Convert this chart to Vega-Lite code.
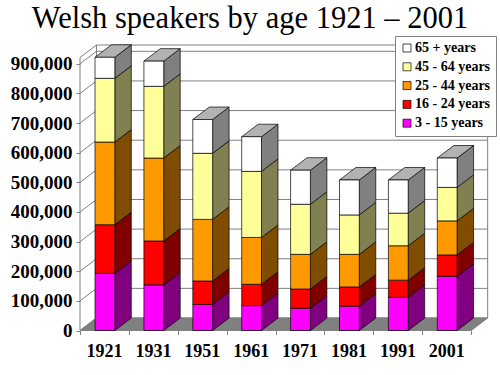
{
"$schema":"https://vega.github.io/schema/vega-lite/v6.json",
"width":408,"height":285.5,
"autosize":"none",
"padding":{"left":80,"top":45,"right":12,"bottom":44.5},
"background":"white",
"title":{"text":"Welsh speakers by age 1921 – 2001","font":"Liberation Serif","fontSize":30.5,"fontWeight":"normal","color":"#000","anchor":"middle","frame":"group","dx":-34,"offset":1},
"datasets":{
"speakers":[
{"year":"1921","age":"3 - 15 years","count":193000},{"year":"1921","age":"16 - 24 years","count":164000},{"year":"1921","age":"25 - 44 years","count":279000},{"year":"1921","age":"45 - 64 years","count":215000},{"year":"1921","age":"65 + years","count":71000},
{"year":"1931","age":"3 - 15 years","count":154000},{"year":"1931","age":"16 - 24 years","count":148000},{"year":"1931","age":"25 - 44 years","count":280000},{"year":"1931","age":"45 - 64 years","count":242000},{"year":"1931","age":"65 + years","count":85000},
{"year":"1951","age":"3 - 15 years","count":88000},{"year":"1951","age":"16 - 24 years","count":79000},{"year":"1951","age":"25 - 44 years","count":208000},{"year":"1951","age":"45 - 64 years","count":223000},{"year":"1951","age":"65 + years","count":114000},
{"year":"1961","age":"3 - 15 years","count":84000},{"year":"1961","age":"16 - 24 years","count":72000},{"year":"1961","age":"25 - 44 years","count":158000},{"year":"1961","age":"45 - 64 years","count":223000},{"year":"1961","age":"65 + years","count":117000},
{"year":"1971","age":"3 - 15 years","count":75000},{"year":"1971","age":"16 - 24 years","count":65000},{"year":"1971","age":"25 - 44 years","count":117000},{"year":"1971","age":"45 - 64 years","count":169000},{"year":"1971","age":"65 + years","count":115000},
{"year":"1981","age":"3 - 15 years","count":82000},{"year":"1981","age":"16 - 24 years","count":65000},{"year":"1981","age":"25 - 44 years","count":110000},{"year":"1981","age":"45 - 64 years","count":133000},{"year":"1981","age":"65 + years","count":118000},
{"year":"1991","age":"3 - 15 years","count":112000},{"year":"1991","age":"16 - 24 years","count":58000},{"year":"1991","age":"25 - 44 years","count":116000},{"year":"1991","age":"45 - 64 years","count":110000},{"year":"1991","age":"65 + years","count":112000},
{"year":"2001","age":"3 - 15 years","count":183000},{"year":"2001","age":"16 - 24 years","count":72000},{"year":"2001","age":"25 - 44 years","count":115000},{"year":"2001","age":"45 - 64 years","count":113000},{"year":"2001","age":"65 + years","count":99000}
],
"gridlines":[{"v":0},{"v":100000},{"v":200000},{"v":300000},{"v":400000},{"v":500000},{"v":600000},{"v":700000},{"v":800000},{"v":900000},{"v":921300}]
},
"config":{"view":{"stroke":null},
 "axisY":{"grid":false,"domain":false,"tickSize":4,"tickColor":"#808080","labelFont":"Liberation Serif","labelFontWeight":"bold","labelFontSize":19,"labelColor":"#000","labelPadding":4,"labelOverlap":false,"labelSeparation":0,"labelBound":false,"labelFlush":false,"tickMinStep":100000}},
"resolve":{"scale":{"fill":"independent"}},
"layer":[
{"data":{"name":"gridlines"},
 "transform":[{"filter":"datum.v==0"},{"calculate":"[0,1]","as":"k"},{"flatten":["k"]},
  {"calculate":"datum.k*42200","as":"fy"},{"calculate":"datum.k*0.337","as":"fa"},{"calculate":"8+datum.k*0.337","as":"fb"}],
 "mark":{"type":"area","orient":"horizontal","fill":"#808080","stroke":"#808080","strokeWidth":1},
 "encoding":{"y":{"field":"fy","type":"quantitative","scale":{"domain":[0,963500],"nice":false,"zero":false},
   "axis":{"values":[0,100000,200000,300000,400000,500000,600000,700000,800000,900000],"format":",d","title":null,"tickCount":10}},
  "x":{"field":"fa","type":"quantitative","scale":{"domain":[0,8.344],"nice":false,"zero":false},
   "axis":{"values":[0,1,2,3,4,5,6,7,8],"labelExpr":"['1921','1931','1951','1961','1971','1981','1991','2001',''][datum.value]","title":null,"grid":false,"domain":false,"tickSize":4,"tickColor":"#808080","labelFont":"Liberation Serif","labelFontWeight":"bold","labelFontSize":18,"labelColor":"#000","labelPadding":8,"labelOffset":24,"labelOverlap":false,"labelFlush":false,"labelBound":false}},
  "x2":{"field":"fb"}}},
{"data":{"name":"gridlines"},
 "transform":[{"calculate":"datum.v+42200","as":"vb"}],
 "mark":{"type":"rule","color":"#808080","strokeWidth":1},
 "encoding":{"x":{"datum":0.337,"type":"quantitative"},"x2":{"datum":8.337},"y":{"field":"vb","type":"quantitative"}}},
{"data":{"name":"gridlines"},
 "transform":[{"calculate":"datum.v+42200","as":"vb"}],
 "mark":{"type":"rule","color":"#808080","strokeWidth":1},
 "encoding":{"x":{"datum":0,"type":"quantitative"},"x2":{"datum":0.337},"y":{"field":"v","type":"quantitative"},"y2":{"field":"vb"}}},
{"data":{"name":"gridlines"},
 "transform":[{"filter":"datum.v==0"},{"calculate":"[0,0.337,8.337]","as":"xs"},{"flatten":["xs"]},
  {"calculate":"datum.xs==0?0:42200","as":"y1"},{"calculate":"datum.xs==0?921300:963500","as":"y2"}],
 "mark":{"type":"rule","color":"#808080","strokeWidth":1},
 "encoding":{"x":{"field":"xs","type":"quantitative"},"y":{"field":"y1","type":"quantitative"},"y2":{"field":"y2"}}},
{"data":{"name":"speakers"},
 "transform":[
  {"calculate":"indexof(['3 - 15 years','16 - 24 years','25 - 44 years','45 - 64 years','65 + years'],datum.age)","as":"ord"},
  {"stack":"count","groupby":["year"],"sort":[{"field":"ord","order":"ascending"}],"as":["s0","s1"]},
  {"calculate":"indexof(['1921','1931','1951','1961','1971','1981','1991','2001'],datum.year)","as":"i"},
  {"calculate":"datum.i+0.307","as":"xa"},{"calculate":"datum.i+0.712","as":"xb"},
  {"calculate":"[0,1]","as":"k"},{"flatten":["k"]},
  {"calculate":"datum.xb+datum.k*0.337","as":"sx"},{"calculate":"datum.s0+datum.k*42200","as":"sy0"},{"calculate":"datum.s1+datum.k*42200","as":"sy1"}],
 "mark":{"type":"area","stroke":"#000","strokeWidth":0.7,"orient":"vertical"},
 "encoding":{"x":{"field":"sx","type":"quantitative"},"y":{"field":"sy0","type":"quantitative"},"y2":{"field":"sy1"},
  "detail":[{"field":"year"},{"field":"age"}],
  "fill":{"field":"age","type":"nominal","legend":null,"scale":{"domain":["65 + years","45 - 64 years","25 - 44 years","16 - 24 years","3 - 15 years"],"range":["#808080","#808050","#7F4C00","#800000","#800080"]}}}},
{"data":{"name":"speakers"},
 "transform":[
  {"calculate":"indexof(['3 - 15 years','16 - 24 years','25 - 44 years','45 - 64 years','65 + years'],datum.age)","as":"ord"},
  {"stack":"count","groupby":["year"],"sort":[{"field":"ord","order":"ascending"}],"as":["s0","s1"]},
  {"filter":"datum.ord==4"},
  {"calculate":"indexof(['1921','1931','1951','1961','1971','1981','1991','2001'],datum.year)","as":"i"},
  {"calculate":"[0,1]","as":"k"},{"flatten":["k"]},
  {"calculate":"datum.i+0.307+datum.k*0.337","as":"ta"},{"calculate":"datum.i+0.712+datum.k*0.337","as":"tb"},{"calculate":"datum.s1+datum.k*42200","as":"ty"}],
 "mark":{"type":"area","orient":"horizontal","fill":"#B2B2B2","stroke":"#000","strokeWidth":0.7},
 "encoding":{"x":{"field":"ta","type":"quantitative"},"x2":{"field":"tb"},"y":{"field":"ty","type":"quantitative"},"detail":{"field":"year"}}},
{"data":{"name":"speakers"},
 "transform":[
  {"calculate":"indexof(['3 - 15 years','16 - 24 years','25 - 44 years','45 - 64 years','65 + years'],datum.age)","as":"ord"},
  {"stack":"count","groupby":["year"],"sort":[{"field":"ord","order":"ascending"}],"as":["s0","s1"]},
  {"calculate":"indexof(['1921','1931','1951','1961','1971','1981','1991','2001'],datum.year)","as":"i"},
  {"calculate":"datum.i+0.307","as":"xa"},{"calculate":"datum.i+0.712","as":"xb"}],
 "mark":{"type":"rect","stroke":"#000","strokeWidth":0.7},
 "encoding":{"x":{"field":"xa","type":"quantitative"},"x2":{"field":"xb"},"y":{"field":"s0","type":"quantitative"},"y2":{"field":"s1"},
  "fill":{"field":"age","type":"nominal","scale":{"domain":["65 + years","45 - 64 years","25 - 44 years","16 - 24 years","3 - 15 years"],"range":["#FFFFFF","#FFFF99","#FF9900","#FF0000","#FF00FF"]},
   "legend":{"title":null,"orient":"none","legendX":315,"legendY":-9,"symbolType":"square","symbolSize":64,"symbolStrokeWidth":0.7,"symbolOpacity":1,"labelFont":"Liberation Serif","labelFontWeight":"bold","labelFontSize":14,"labelColor":"#000","labelLimit":120,"padding":5,"rowPadding":4.8,"labelOffset":1,"fillColor":"#FFFFFF","strokeColor":"#808080"}}}}
]
}
